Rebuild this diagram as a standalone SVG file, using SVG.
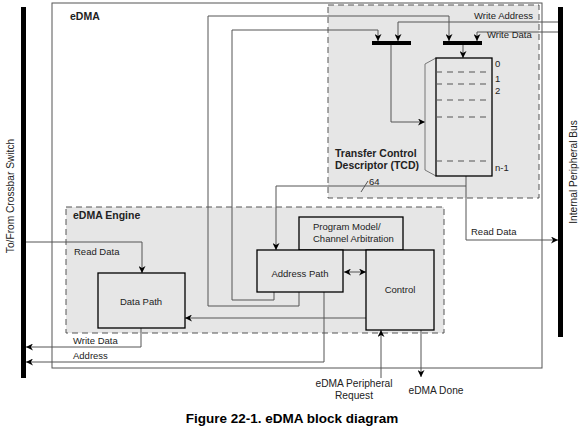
<svg xmlns="http://www.w3.org/2000/svg" width="584" height="429" viewBox="0 0 584 429">
<style>
text{font-family:"Liberation Sans",Arial,sans-serif;fill:#222;font-size:9.5px}
.o{font-size:10.2px}
.b{font-weight:bold;font-size:10.5px}
.cap{font-weight:bold;font-size:13.5px;fill:#000}
.box{fill:#e6e6e6;stroke:#000;stroke-width:1.3}
.reg{fill:#e6e6e6;stroke:#555;stroke-width:1;stroke-dasharray:6,4}
.ln{fill:none;stroke:#555;stroke-width:1}
.la{fill:none;stroke:#555;stroke-width:1;marker-end:url(#ah)}
.bar{fill:#000}
.dl{stroke:#555;stroke-width:1;stroke-dasharray:6,5}
</style>
<defs>
<marker id="ah" viewBox="0 0 10 10" refX="10" refY="5" markerWidth="7" markerHeight="7" markerUnits="userSpaceOnUse" orient="auto-start-reverse">
<path d="M0,0 L10,5 L0,10 L3,5 Z" fill="#000"/>
</marker>
</defs>
<rect width="584" height="429" fill="#fff"/>
<g id="buses">
<rect class="bar" x="21" y="7" width="5" height="371"/>
<rect class="bar" x="558" y="7" width="5" height="330"/>
<text class="o" transform="translate(14,196) rotate(-90)" text-anchor="middle">To/From Crossbar Switch</text>
<text class="o" transform="translate(577,172) rotate(-90)" text-anchor="middle">Internal Peripheral Bus</text>
</g>
<g id="edma">
<rect x="52" y="3" width="490" height="365" fill="none" stroke="#555" stroke-width="1"/>
<text class="b" x="70" y="20">eDMA</text>
</g>
<g id="tcd-region">
<rect class="reg" x="328" y="5" width="211" height="193"/>
<text class="b" x="335" y="157">Transfer Control</text>
<text class="b" x="335" y="169">Descriptor (TCD)</text>
</g>
<g id="engine-region">
<rect class="reg" x="66" y="207" width="378" height="126"/>
<text class="b" x="73" y="219">eDMA Engine</text>
</g>
<g id="connectors">
<polyline class="la" points="558,22 398,22 398,41"/>
<polyline class="la" points="558,32 477,32 477,41"/>
<polyline class="la" points="299,292 299,306 208,306 208,16 449,16 449,41"/>
<polyline class="la" points="274,292 274,300 232,300 232,30 378,30 378,41"/>
<polyline class="la" points="463,45 463,58"/>
<polyline class="la" points="391,45 391,122 425,122"/>
<polyline class="la" points="466,176 466,240 558,240"/>
<polyline class="la" points="466,186 276,186 276,250"/>
<line class="ln" x1="361" y1="192" x2="368" y2="181"/>
<polyline class="la" points="366,318 185,318"/>
<polyline class="la" points="26,242 142,242 142,273"/>
<polyline class="la" points="141,328 141,347 26,347"/>
<polyline class="la" points="324,292 324,362 26,362"/>
<line class="la" x1="344" y1="272" x2="366" y2="272" style="marker-start:url(#ah)"/>
<polyline class="la" points="381,378 381,330"/>
<polyline class="la" points="421,330 421,377"/>
<text x="533" y="19" text-anchor="end">Write Address</text>
<text x="487" y="38">Write Data</text>
<text x="369" y="185">64</text>
<text x="471" y="235">Read Data</text>
<text x="74" y="255">Read Data</text>
<text x="73" y="344">Write Data</text>
<text x="73" y="359">Address</text>
<text class="o" x="354" y="387" text-anchor="middle">eDMA Peripheral</text>
<text class="o" x="354" y="399" text-anchor="middle">Request</text>
<text class="o" x="436" y="394" text-anchor="middle">eDMA Done</text>
</g>
<g id="mux-left"><rect class="bar" x="372" y="41" width="39" height="4"/></g>
<g id="mux-right"><rect class="bar" x="443" y="41" width="39" height="4"/></g>
<g id="tcd-stack">
<polyline points="436,58 425,64 425,170 436,176" fill="none" stroke="#777" stroke-width="1"/>
<rect class="box" x="436" y="58" width="56" height="118" stroke-width="1"/>
<line class="dl" x1="436" y1="72" x2="492" y2="72"/>
<line class="dl" x1="436" y1="84" x2="492" y2="84"/>
<line class="dl" x1="436" y1="100" x2="492" y2="100"/>
<line class="dl" x1="436" y1="117" x2="492" y2="117"/>
<line class="dl" x1="436" y1="161" x2="492" y2="161"/>
<text x="495" y="67">0</text>
<text x="495" y="82">1</text>
<text x="495" y="94">2</text>
<text x="495" y="171">n-1</text>
</g>
<g id="data-path">
<rect class="box" x="98" y="273" width="87" height="55"/>
<text x="141" y="305" text-anchor="middle">Data Path</text>
</g>
<g id="program-model">
<rect class="box" x="299" y="217" width="104" height="33"/>
<text x="313" y="230">Program Model/</text>
<text x="313" y="242">Channel Arbitration</text>
</g>
<g id="address-path">
<rect class="box" x="257" y="250" width="86" height="42"/>
<text x="300" y="277" text-anchor="middle">Address Path</text>
</g>
<g id="control">
<rect class="box" x="366" y="250" width="68" height="80"/>
<text x="400" y="293" text-anchor="middle">Control</text>
</g>
<text class="cap" x="292" y="423" text-anchor="middle">Figure 22-1. eDMA block diagram</text>
</svg>
